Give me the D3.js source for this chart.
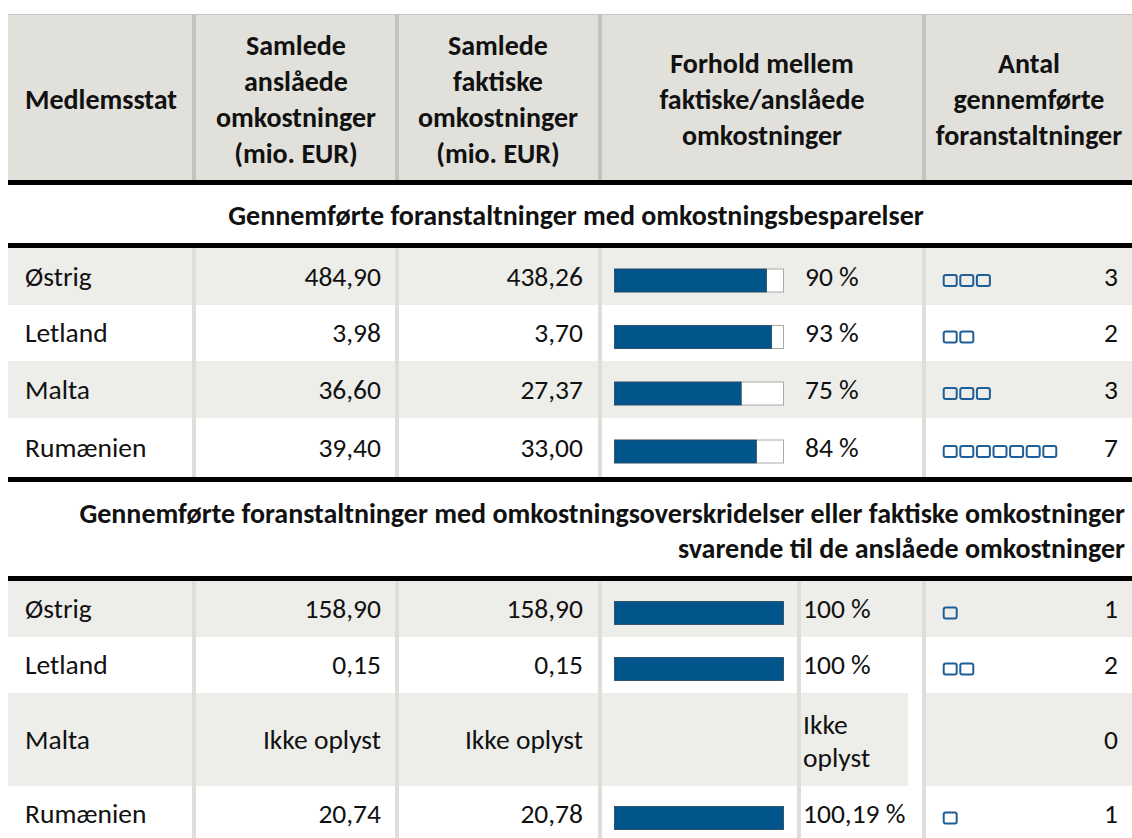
<!DOCTYPE html>
<html>
<head>
<meta charset="utf-8">
<script src="https://cdn.jsdelivr.net/npm/d3@7"></script>
<style>
  html, body { margin: 0; padding: 0; background: #fff; }
  svg { display: block; font-family: Carlito, Calibri, Lato, sans-serif; }
</style>
</head>
<body>
<svg id="chart"></svg>
<script>
// data
const headers = [
  ['Medlemsstat'],
  ['Samlede', 'anslåede', 'omkostninger', '(mio. EUR)'],
  ['Samlede', 'faktiske', 'omkostninger', '(mio. EUR)'],
  ['Forhold mellem', 'faktiske/anslåede', 'omkostninger'],
  ['Antal', 'gennemførte', 'foranstaltninger']
];
const sectionTitles = [
  ['Gennemførte foranstaltninger med omkostningsbesparelser'],
  ['Gennemførte foranstaltninger med omkostningsoverskridelser eller faktiske omkostninger',
   'svarende til de anslåede omkostninger']
];
const countries = ['Østrig', 'Letland', 'Malta', 'Rumænien'];
const estimated1 = ['484,90', '3,98', '36,60', '39,40'];
const actual1 = ['438,26', '3,70', '27,37', '33,00'];
const ratio1 = [90, 93, 75, 84];
const ratioLabel1 = ['90 %', '93 %', '75 %', '84 %'];
const measures1 = [3, 2, 3, 7];
const estimated2 = ['158,90', '0,15', 'Ikke oplyst', '20,74'];
const actual2 = ['158,90', '0,15', 'Ikke oplyst', '20,78'];
const ratio2 = [100, 100, null, 100.19];
const ratioLabel2 = ['100 %', '100 %', 'Ikke oplyst', '100,19 %'];
const measures2 = [1, 2, 0, 1];

const WIDTH = 1132, HEIGHT = 838;
const left = 8, right = 1132;
const seps = [192, 395, 598, 922];
const blue = '#02558b';
const FS = 27.5, FSB = 28;

const svg = d3.select('#chart').attr('width', WIDTH).attr('height', HEIGHT);

// header
svg.append('line').attr('x1', left).attr('x2', right).attr('y1', 14.5).attr('y2', 14.5)
    .attr('stroke', '#c4c4c4');
svg.append('rect').attr('x', left).attr('y', 15).attr('width', right - left).attr('height', 166)
    .attr('fill', '#e1e0da');
seps.forEach(s => svg.append('rect').attr('x', s).attr('y', 15).attr('width', 4).attr('height', 166)
    .attr('fill', '#c3c3c1'));

const headCenters = [null, 296, 498, 762, 1029];
const headTops = [109, 55, 55, 73, 73];
headers.forEach((lines, i) => {
  const t = svg.append('text')
      .attr('font-weight', 'bold').attr('font-size', FSB).attr('fill', '#111')
      .attr('text-anchor', i === 0 ? 'start' : 'middle');
  lines.forEach((l, j) => t.append('tspan')
      .attr('x', i === 0 ? 25 : headCenters[i])
      .attr('y', headTops[i] + j * 36)
      .text(l));
});

function thick(y) {
  svg.append('rect').attr('x', left).attr('y', y).attr('width', right - left).attr('height', 5)
      .attr('fill', '#000');
}
thick(180);

// section titles
svg.append('text').attr('x', 576).attr('y', 225).attr('text-anchor', 'middle')
    .attr('font-weight', 'bold').attr('font-size', FSB).attr('fill', '#111')
    .text(sectionTitles[0][0]);
sectionTitles[1].forEach((l, j) => svg.append('text')
    .attr('x', 1125).attr('y', 523 + j * 35).attr('text-anchor', 'end')
    .attr('font-weight', 'bold').attr('font-size', FSB).attr('fill', '#111')
    .text(l));

const x = d3.scaleLinear().domain([0, 100]).range([0, 169]);

function section(top, heights, est, act, ratio, ratioLabel, measures, splitPct) {
  thick(top - 5);
  const ys = [top];
  heights.forEach(h => ys.push(ys[ys.length - 1] + h));
  const bottom = ys[ys.length - 1];
  const rows = countries.map((c, i) => ({
    country: c, est: est[i], act: act[i], ratio: ratio[i], label: ratioLabel[i],
    n: measures[i], y0: ys[i], y1: ys[i + 1], cy: (ys[i] + ys[i + 1]) / 2
  }));

  svg.selectAll(null).data(rows).join('rect')
      .attr('x', left).attr('y', d => d.y0).attr('width', right - left).attr('height', d => d.y1 - d.y0)
      .attr('fill', (d, i) => i % 2 === 0 ? '#ededea' : '#fff');

  // white notch right of the "Ikke oplyst" ratio cell
  if (splitPct) {
    rows.filter((d, i) => d.ratio == null && i % 2 === 0).forEach(d =>
      svg.append('rect').attr('x', 908).attr('y', d.y0).attr('width', 14).attr('height', d.y1 - d.y0)
          .attr('fill', '#fff'));
  }

  const colSeps = splitPct ? seps.concat([797]) : seps;
  colSeps.forEach(s => svg.append('rect').attr('x', s).attr('y', top).attr('width', 4)
      .attr('height', Math.min(bottom, HEIGHT) - top).attr('fill', '#dfdfd9'));

  const g = svg.selectAll(null).data(rows).join('g');
  const txt = (sel) => sel.attr('font-size', FS).attr('fill', '#111');
  g.append('text').call(txt).attr('x', 25).attr('y', d => d.cy + 9).text(d => d.country);
  g.append('text').call(txt).attr('x', 381).attr('y', d => d.cy + 9).attr('text-anchor', 'end').text(d => d.est);
  g.append('text').call(txt).attr('x', 583).attr('y', d => d.cy + 9).attr('text-anchor', 'end').text(d => d.act);

  const bars = g.filter(d => d.ratio != null);
  bars.append('rect').attr('x', 614.5).attr('y', d => d.cy - 7.5).attr('width', x(100)).attr('height', 23)
      .attr('fill', '#fff').attr('stroke', '#aaaaaa');
  bars.append('rect').attr('x', 614.5).attr('y', d => d.cy - 7.5)
      .attr('width', d => x(Math.min(d.ratio, 100))).attr('height', 23)
      .attr('fill', blue).attr('stroke', '#26435c').attr('stroke-width', 0.7);

  const px = splitPct ? 803 : 805;
  g.filter(d => d.ratio != null).append('text').call(txt)
      .attr('x', px).attr('y', d => d.cy + 9).text(d => d.label);
  g.filter(d => d.ratio == null).each(function(d) {
    const t = d3.select(this).append('text').call(txt);
    d.label.split(' ').forEach((w, j) => t.append('tspan').attr('x', px)
        .attr('y', d.cy - 6 + j * 33).text(w));
  });

  g.selectAll('rect.sq').data(d => d3.range(d.n).map(k => ({k, cy: d.cy})))
      .join('rect').attr('class', 'sq')
      .attr('x', s => 943.7 + s.k * 16.6).attr('y', s => s.cy - 1.5).attr('width', 13).attr('height', 11)
      .attr('rx', 2).attr('fill', 'none').attr('stroke', '#1d5f96').attr('stroke-width', 2);

  g.append('text').call(txt).attr('x', 1118).attr('y', d => d.cy + 9).attr('text-anchor', 'end')
      .text(d => d.n);
  return bottom;
}

const end1 = section(248, [57, 56, 57, 59], estimated1, actual1, ratio1, ratioLabel1, measures1, false);
thick(end1);
section(581, [56, 56, 93, 56], estimated2, actual2, ratio2, ratioLabel2, measures2, true);
</script>
</body>
</html>
